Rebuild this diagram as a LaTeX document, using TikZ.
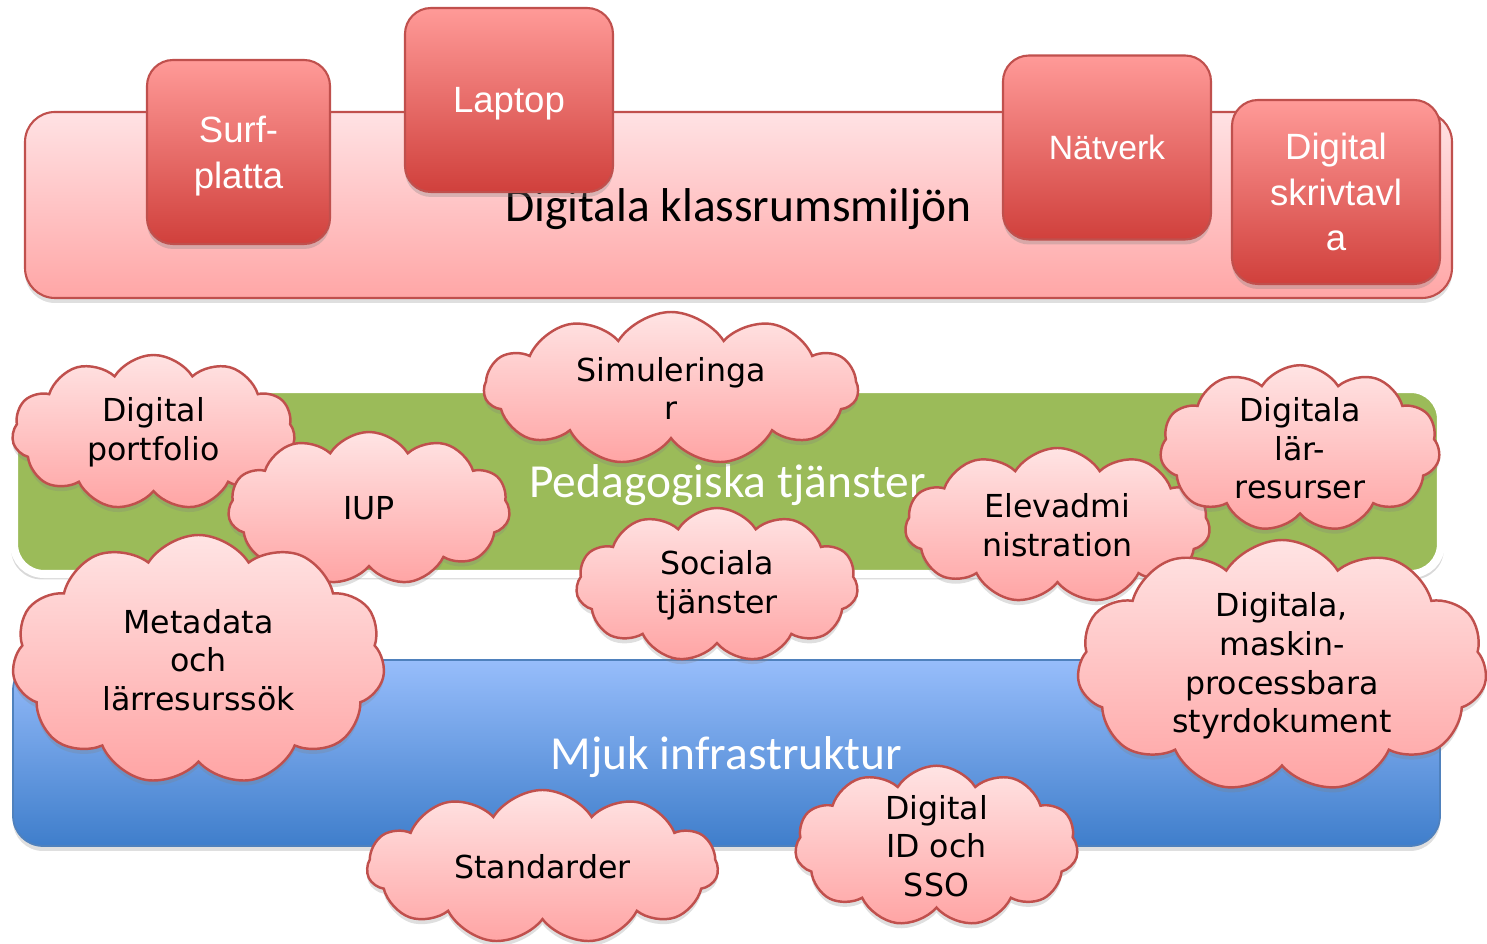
\documentclass[tikz,border=0pt]{standalone}
\usepackage{fontspec}
\usepackage{tikz}
\usetikzlibrary{shapes.symbols,shadows}
\newfontfamily\calibrifont{Carlito}
\newfontfamily\arialfont{Liberation Sans}
\newfontfamily\verdanafont{DejaVu Sans}
\definecolor{redline}{RGB}{192,80,77}
\definecolor{bandtop}{RGB}{255,226,228}
\definecolor{bandbot}{RGB}{255,166,166}
\definecolor{devtop}{RGB}{255,154,152}
\definecolor{devbot}{RGB}{208,64,60}
\definecolor{cloudtop}{RGB}{255,228,228}
\definecolor{cloudbot}{RGB}{255,164,164}
\definecolor{pedgreen}{RGB}{155,187,89}
\definecolor{bluetop}{RGB}{151,189,251}
\definecolor{bluebot}{RGB}{63,126,203}
\definecolor{blueline}{RGB}{79,129,189}

\begin{document}
\begin{tikzpicture}[x=0.1mm, y=-0.1mm,
  band/.style={rectangle, rounded corners=3mm, inner sep=0pt, text depth=0pt, minimum width=142.7mm, minimum height=18.6mm, font=\calibrifont\fontsize{13.5}{16}\selectfont},
  device/.style={rectangle, rounded corners=2.6mm, draw=redline, line width=0.6pt, top color=devtop, bottom color=devbot, text=white, align=center, inner sep=0pt, text depth=0pt, minimum height=18.4mm, font=\arialfont\fontsize{10.4}{13}\selectfont, drop shadow={opacity=0.3, shadow xshift=0pt, shadow yshift=-0.5mm}},
  puff/.style={cloud, cloud puffs=11, cloud puff arc=115, cloud ignores aspect, draw=redline, line width=0.7pt, top color=cloudtop, bottom color=cloudbot, align=center, inner sep=0pt, font=\verdanafont\fontsize{9}{11}\selectfont, drop shadow={opacity=0.25, shadow xshift=0pt, shadow yshift=-0.5mm}}]
\useasboundingbox (0,0) rectangle (1487,944);

\node[band, draw=redline, line width=0.6pt, top color=bandtop, bottom color=bandbot, drop shadow={opacity=0.25, shadow xshift=0pt, shadow yshift=-0.5mm}] (klassrum) at (738.5,205) {Digitala klassrumsmiljön};
\node[device, minimum width=18.3mm] (surf) at (238.5,152) {Surf-\\platta};
\node[device, minimum width=20.8mm] (laptop) at (509,100) {Laptop};
\node[device, minimum width=20.8mm, font=\arialfont\fontsize{9.6}{12}\selectfont] (natverk) at (1107,147.5) {Nätverk};
\node[device, minimum width=20.8mm] (tavla) at (1336,192) {Digital\\skrivtavl\\a};

\node[band, draw=white, line width=2.3pt, fill=pedgreen, text=white, minimum height=18.5mm, drop shadow={opacity=0.3, shadow xshift=0pt, shadow yshift=-0.5mm, shadow scale=1.004}] (peda) at (727.5,481.5) {Pedagogiska tjänster};
\node[band, draw=blueline, line width=0.5pt, top color=bluetop, bottom color=bluebot, text=white, drop shadow={opacity=0.25, shadow xshift=0pt, shadow yshift=-0.5mm}] (mjuk) at (726.5,753) {Mjuk infrastruktur};

\node[puff, minimum width=37.4mm, minimum height=15.3mm] (simul) at (671,388.5) {Simuleringa\\r};
\node[puff, minimum width=28.3mm, minimum height=15.5mm] (portfolio) at (153.5,432.5) {Digital\\portfolio};
\node[puff, minimum width=28.2mm, minimum height=15.3mm] (iup) at (369,508.5) {IUP};
\node[puff, minimum width=37.3mm, minimum height=25mm] (metadata) at (198.5,660) {Metadata\\och\\lärresurssök};
\node[puff, minimum width=28.2mm, minimum height=15.4mm] (sociala) at (717,585) {Sociala\\tjänster};
\node[puff, minimum width=30.5mm, minimum height=15.5mm] (elevadm) at (1057.5,525.5) {Elevadmi\\nistration};
\node[puff, minimum width=28mm, minimum height=15.3mm] (larres) at (1300,448.5) {Digitala\\lär-\\resurser};
\node[puff, minimum width=41mm, minimum height=25.2mm] (styrdok) at (1282,666) {Digitala,\\maskin-\\processbara\\styrdokument};
\node[puff, minimum width=35.1mm, minimum height=15.4mm] (standard) at (542.5,867) {Standarder};
\node[puff, minimum width=28.3mm, minimum height=15.2mm] (digid) at (936.5,846) {Digital\\ID och\\SSO};
\end{tikzpicture}
\end{document}
